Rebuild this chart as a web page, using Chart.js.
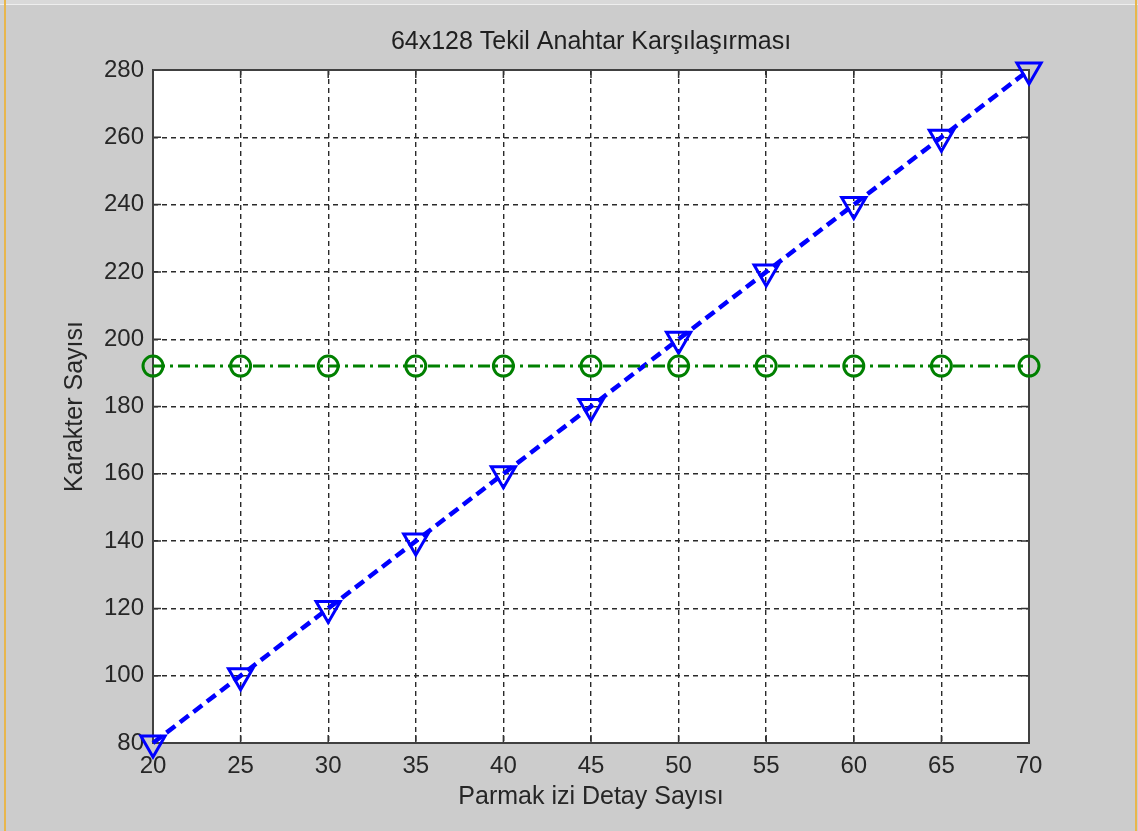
<!DOCTYPE html>
<html>
<head>
<meta charset="utf-8">
<style>
  html, body { margin: 0; padding: 0; background: #cccccc; }
  canvas { display: block; }
</style>
<script src="https://cdn.jsdelivr.net/npm/chart.js@4/dist/chart.umd.min.js"></script>
</head>
<body>
<canvas id="myChart" width="1138" height="831"></canvas>
<script>
"use strict";
var detailCounts = [20, 25, 30, 35, 40, 45, 50, 55, 60, 65, 70];
var charCounts   = [80, 100, 120, 140, 160, 180, 200, 220, 240, 260, 280];
var fixedCounts  = [192, 192, 192, 192, 192, 192, 192, 192, 192, 192, 192];
var yTicks = [80, 100, 120, 140, 160, 180, 200, 220, 240, 260, 280];
var chartTitle = "64x128 Tekil Anahtar Karşılaşırması";

(function () {
    var font = "'Liberation Sans', Arial, sans-serif";
    var textColor = "#262626";

    function toPoints(xs, ys) {
        return xs.map(function (x, i) { return { x: x, y: ys[i] }; });
    }

    // gray window background with the thin side edges, plus the title
    var frameBg = {
        id: "frameBg",
        beforeDraw: function (chart) {
            var c = chart.ctx;
            var a = chart.chartArea;
            c.save();
            c.fillStyle = "#cccccc";
            c.fillRect(0, 0, chart.width, chart.height);
            c.fillStyle = "#d9d9d9";
            c.fillRect(0, 0, chart.width, 4);
            c.fillStyle = "#eeeeee";
            c.fillRect(0, 4, chart.width, 1);
            c.fillStyle = "#e8b64c";
            c.fillRect(4, 0, 2, chart.height);
            c.fillRect(1135, 0, 2, chart.height);

            c.fillStyle = "#ffffff";
            c.fillRect(a.left, a.top, a.right - a.left, a.bottom - a.top);

            c.fillStyle = "#1f1f1f";
            c.font = "25px " + font;
            c.textAlign = "center";
            c.textBaseline = "middle";
            c.fillText(chartTitle, (a.left + a.right) / 2, 42);
            c.restore();
        }
    };

    // box round the plot and the short inner tick marks
    var plotBox = {
        id: "plotBox",
        beforeDatasetsDraw: function (chart) {
            var a = chart.chartArea;
            var c = chart.ctx;
            var xs = chart.scales.x;
            var ys = chart.scales.y;
            var len = 8;
            c.save();
            c.strokeStyle = "#333333";
            c.lineWidth = 1.5;
            c.beginPath();
            detailCounts.forEach(function (v) {
                var px = xs.getPixelForValue(v);
                c.moveTo(px, a.bottom); c.lineTo(px, a.bottom - len);
                c.moveTo(px, a.top); c.lineTo(px, a.top + len);
            });
            yTicks.forEach(function (v) {
                var py = ys.getPixelForValue(v);
                c.moveTo(a.left, py); c.lineTo(a.left + len, py);
                c.moveTo(a.right, py); c.lineTo(a.right - len, py);
            });
            c.stroke();
            c.strokeStyle = "#404040";
            c.lineWidth = 2;
            c.strokeRect(a.left, a.top, a.right - a.left, a.bottom - a.top);
            c.restore();
        }
    };

    var ctx = document.getElementById("myChart").getContext("2d");
    var chart = new Chart(ctx, {
        type: "line",
        data: {
            datasets: [{
                label: "Tekil anahtar",
                data: toPoints(detailCounts, fixedCounts),
                borderColor: "#008000",
                borderWidth: 3,
                borderDash: [12, 5, 3, 5],
                pointStyle: "circle",
                pointRadius: 10,
                pointBorderWidth: 3,
                pointBorderColor: "#008000",
                pointBackgroundColor: "rgba(0,0,0,0)",
                clip: false
            },
            {
                label: "Karakter",
                data: toPoints(detailCounts, charCounts),
                borderColor: "#0000ff",
                borderWidth: 4.5,
                borderDash: [11, 6],
                pointStyle: "triangle",
                rotation: 180,
                pointRadius: 14,
                pointBorderWidth: 3,
                pointBorderColor: "#0000ff",
                pointBackgroundColor: "rgba(0,0,0,0)",
                clip: false
            }]
        },
        options: {
            responsive: false,
            animation: false,
            layout: { padding: { left: 0, right: 109, top: 70, bottom: 0 } },
            plugins: {
                legend: { display: false },
                tooltip: { enabled: false },
                title: { display: false }
            },
            scales: {
                x: {
                    type: "linear",
                    min: 20,
                    max: 70,
                    afterFit: function (scale) { scale.height = 88; },
                    afterBuildTicks: function (scale) {
                        scale.ticks = detailCounts.map(function (v) { return { value: v }; });
                    },
                    grid: {
                        color: "#2a2a2a",
                        lineWidth: 1.4,
                        drawTicks: false
                    },
                    border: { display: false, dash: [5, 4] },
                    ticks: {
                        color: textColor,
                        padding: 9,
                        maxRotation: 0,
                        font: { family: font, size: 24 }
                    },
                    title: {
                        display: true,
                        text: "Parmak izi Detay Sayısı",
                        color: textColor,
                        font: { family: font, size: 25, lineHeight: 1.2 },
                        padding: { top: 4, bottom: 19 }
                    }
                },
                y: {
                    type: "linear",
                    min: 80,
                    max: 280,
                    afterFit: function (scale) { scale.width = 153; },
                    afterBuildTicks: function (scale) {
                        scale.ticks = yTicks.map(function (v) { return { value: v }; });
                    },
                    grid: {
                        color: "#2a2a2a",
                        lineWidth: 1.4,
                        drawTicks: false
                    },
                    border: { display: false, dash: [5, 4] },
                    ticks: {
                        color: textColor,
                        padding: 9,
                        font: { family: font, size: 24 }
                    },
                    title: {
                        display: true,
                        text: "Karakter Sayısı",
                        color: textColor,
                        font: { family: font, size: 25, lineHeight: 1.2 },
                        padding: { top: 60, bottom: 4 }
                    }
                }
            }
        },
        plugins: [frameBg, plotBox]
    });
})();
</script>
</body>
</html>
